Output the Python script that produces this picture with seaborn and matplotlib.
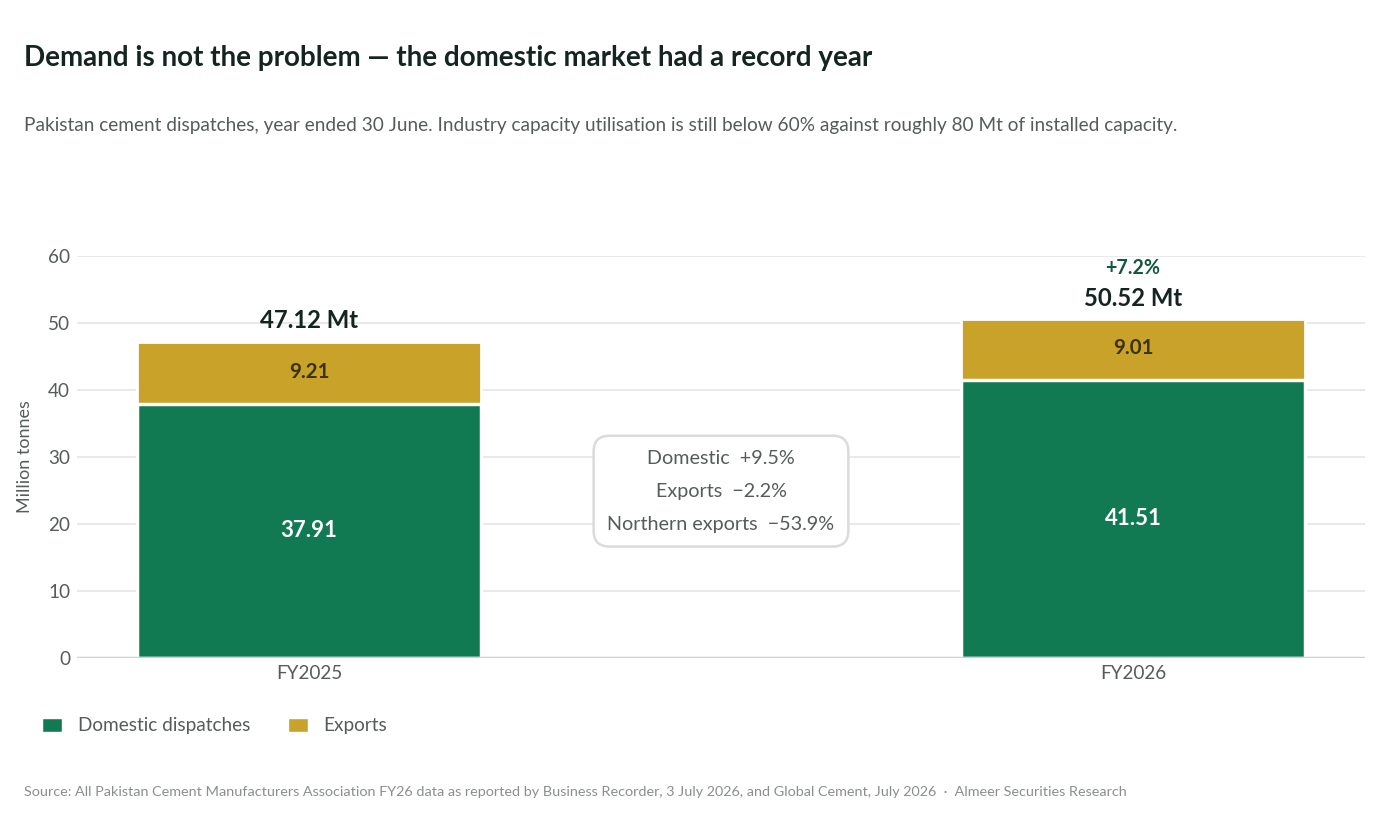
import pandas as pd
import matplotlib.pyplot as plt
import seaborn as sns
from matplotlib.patches import Patch

# Data
years = ['FY2025', 'FY2026']
domestic = [37.91, 41.51]
exports = [9.21, 9.01]
growth_labels = ['', '+7.2%']
change_lines = ['Domestic  +9.5%', 'Exports  \u22122.2%', 'Northern exports  \u221253.9%']

df = pd.DataFrame({'Year': years, 'Domestic': domestic, 'Exports': exports})
df['Total'] = df['Domestic'] + df['Exports']

green = '#117a52'
gold = '#c9a229'
dark = '#142420'
grey = '#555c5a'

sns.set_theme(style='white')
plt.rcParams['font.family'] = ['Lato', 'DejaVu Sans']

fig = plt.figure(figsize=(14, 8.23), dpi=100)
ax = fig.add_axes([0.055, 0.2005, 0.92, 0.4885])

bw = 0.417
sns.barplot(data=df, x='Year', y='Total', color=gold, saturation=1, width=bw,
            edgecolor='white', linewidth=2, ax=ax, zorder=2)
sns.barplot(data=df, x='Year', y='Domestic', color=green, saturation=1, width=bw,
            edgecolor='white', linewidth=2.5, ax=ax, zorder=3)

ax.set_xlim(-0.2816, 1.2816)
ax.set_ylim(0, 60)
ax.set_yticks(range(0, 61, 10))
ax.yaxis.grid(True, color='#e3e6e5', linewidth=1.2)
ax.set_axisbelow(True)
for s in ax.spines.values():
    s.set_visible(False)
ax.axhline(0, color='#cdd1d0', linewidth=2.5, zorder=4)
ax.tick_params(axis='both', length=0, labelsize=13.6, labelcolor=grey, pad=5)
ax.set_xlabel('')
ax.set_ylabel('Million tonnes', fontsize=13, color=grey, labelpad=11)

for i, row in df.iterrows():
    ax.text(i, row['Domestic'] / 2, f"{row['Domestic']:.2f}", ha='center', va='center',
            fontsize=16, fontweight='bold', color='white', zorder=5)
    ax.text(i, row['Domestic'] + row['Exports'] / 2 + 0.2, f"{row['Exports']:.2f}", ha='center',
            va='center', fontsize=14.8, fontweight='bold', color='#3a3212', zorder=5)
    ax.text(i, row['Total'] + 3.2, f"{row['Total']:.2f} Mt", ha='center', va='center',
            fontsize=17.2, fontweight='bold', color=dark, zorder=5)
    if growth_labels[i]:
        ax.text(i, row['Total'] + 7.7, growth_labels[i], ha='center', va='center',
                fontsize=14.2, fontweight='bold', color='#0f5a3d', zorder=5)

ax.text(0.5, 24.9, '\n'.join(change_lines), ha='center', va='center', fontsize=14.2,
        color=grey, linespacing=2.15, zorder=6,
        bbox=dict(boxstyle='round,pad=0.7,rounding_size=0.8', facecolor='white',
                  edgecolor='#d9dcdb', linewidth=1.8))

handles = [Patch(facecolor=green, label='Domestic dispatches'),
           Patch(facecolor=gold, label='Exports')]
fig.legend(handles=handles, loc='center left', bbox_to_anchor=(0.018, 0.118), ncol=2,
           frameon=False, fontsize=13.7, labelcolor=grey, handlelength=1.05, handleheight=0.75,
           handletextpad=0.8, columnspacing=2.0)

fig.text(0.017, 0.930, 'Demand is not the problem \u2014 the domestic market had a record year',
         fontsize=20, fontweight='bold', color=dark, va='center')
fig.text(0.017, 0.848, 'Pakistan cement dispatches, year ended 30 June. Industry capacity utilisation '
         'is still below 60% against roughly 80 Mt of installed capacity.',
         fontsize=13.7, color=grey, va='center')
fig.text(0.017, 0.038, 'Source: All Pakistan Cement Manufacturers Association FY26 data as reported by '
         'Business Recorder, 3 July 2026, and Global Cement, July 2026  \u00b7  Almeer Securities Research',
         fontsize=10.35, color='#8a8f8e', va='center')

fig.savefig('out.png', dpi=100)
